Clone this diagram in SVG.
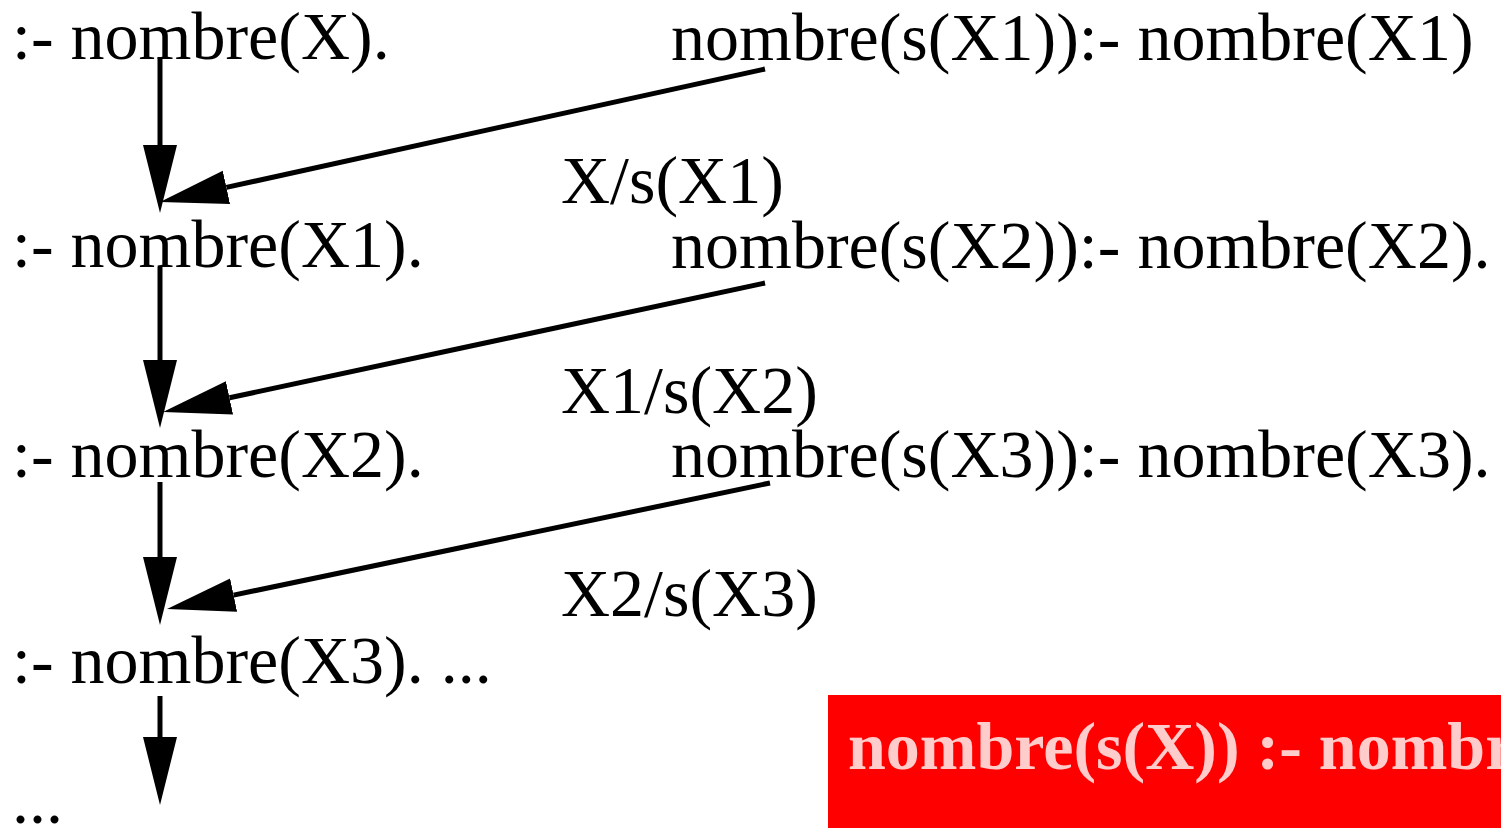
<svg xmlns="http://www.w3.org/2000/svg" width="1501" height="828" viewBox="0 0 1501 828">
<style>
.t{font-family:"Liberation Serif","Times New Roman",serif;font-size:68px;fill:#000}
.b{font-family:"Liberation Serif","Times New Roman",serif;font-size:68px;font-weight:bold;fill:#ffcccc}
.e{stroke:#000;stroke-width:5;fill:none}
</style>
<defs>
<marker id="ah" markerUnits="userSpaceOnUse" markerWidth="70" markerHeight="36" viewBox="0 -18 70 36" refX="0" refY="0" orient="auto">
<path d="M0,-17 L68,0 L0,17 z" fill="#000"/>
</marker>
</defs>
<rect width="1501" height="828" fill="#fff"/>
<g id="connectors">
<line class="e" x1="160" y1="57" x2="160" y2="145" marker-end="url(#ah)"/>
<line class="e" x1="160" y1="267" x2="160" y2="360" marker-end="url(#ah)"/>
<line class="e" x1="160" y1="482" x2="160" y2="557" marker-end="url(#ah)"/>
<line class="e" x1="160" y1="696" x2="160" y2="737" marker-end="url(#ah)"/>
<line class="e" x1="765" y1="69" x2="226.4" y2="187.4" marker-end="url(#ah)"/>
<line class="e" x1="765" y1="283" x2="229.5" y2="397.8" marker-end="url(#ah)"/>
<line class="e" x1="770" y1="483" x2="233.6" y2="595.1" marker-end="url(#ah)"/>
</g>
<g id="goal0"><text class="t" x="12" y="59">:- nombre(X).</text></g>
<g id="goal1"><text class="t" x="12" y="267">:- nombre(X1).</text></g>
<g id="goal2"><text class="t" x="12" y="477">:- nombre(X2).</text></g>
<g id="goal3"><text class="t" x="12" y="683">:- nombre(X3). ...</text></g>
<g id="goal4"><text class="t" x="12" y="823">...</text></g>
<g id="clause1"><text class="t" x="671" y="60">nombre(s(X1)):- nombre(X1)</text></g>
<g id="clause2"><text class="t" x="671" y="268">nombre(s(X2)):- nombre(X2).</text></g>
<g id="clause3"><text class="t" x="671" y="477">nombre(s(X3)):- nombre(X3).</text></g>
<g id="label1"><text class="t" x="561" y="203">X/s(X1)</text></g>
<g id="label2"><text class="t" x="561" y="413">X1/s(X2)</text></g>
<g id="label3"><text class="t" x="561" y="616">X2/s(X3)</text></g>
<g id="rule">
<rect x="828" y="695" width="673" height="133" fill="#ff0000"/>
<text class="b" x="848" y="769">nombre(s(X)) :- nombre(X).</text>
</g>
</svg>
